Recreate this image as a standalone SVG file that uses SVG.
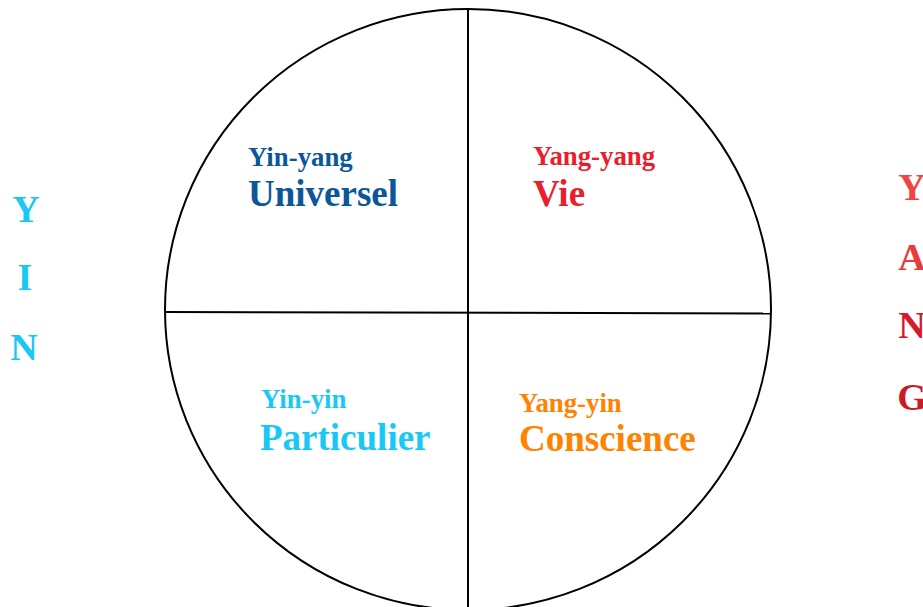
<svg xmlns="http://www.w3.org/2000/svg" width="923" height="607" viewBox="0 0 923 607">
<style>
text{font-family:"Liberation Serif","Times New Roman",serif;font-weight:bold}
.s{font-size:26.8px}
.b{font-size:37px}
.side{font-size:38px;text-anchor:middle}
.ln{fill:none;stroke:#000;stroke-width:2}
</style>
<rect width="923" height="607" fill="#fff"/>
<g id="connectors">
<ellipse class="ln" cx="468" cy="309.5" rx="303" ry="300.5"/>
<line class="ln" x1="166" y1="312" x2="771" y2="313.5"/>
<line class="ln" x1="468" y1="9" x2="468" y2="607"/>
</g>
<g id="yin-yang" fill="#0b5799">
<text class="s" x="248" y="166">Yin-yang</text>
<text class="b" x="248" y="206">Universel</text>
</g>
<g id="yang-yang" fill="#e8202c">
<text class="s" x="533" y="165">Yang-yang</text>
<text class="b" x="533" y="206">Vie</text>
</g>
<g id="yin-yin" fill="#19c8f4">
<text class="s" x="261" y="408">Yin-yin</text>
<text class="b" x="260" y="450">Particulier</text>
</g>
<g id="yang-yin" fill="#ff8200">
<text class="s" x="519" y="412">Yang-yin</text>
<text class="b" x="519" y="451">Conscience</text>
</g>
<g id="yin" fill="#19c8f4">
<text class="side" x="26" y="222">Y</text>
<text class="side" x="25" y="290">I</text>
<text class="side" x="24" y="360">N</text>
</g>
<g id="yang">
<text class="side" x="912" y="200" fill="#ef4545">Y</text>
<text class="side" x="912" y="270" fill="#e83a3a">A</text>
<text class="side" x="912" y="338" fill="#d41c2a">N</text>
<text class="side" x="912" y="410" fill="#cc1a28">G</text>
</g>
</svg>
